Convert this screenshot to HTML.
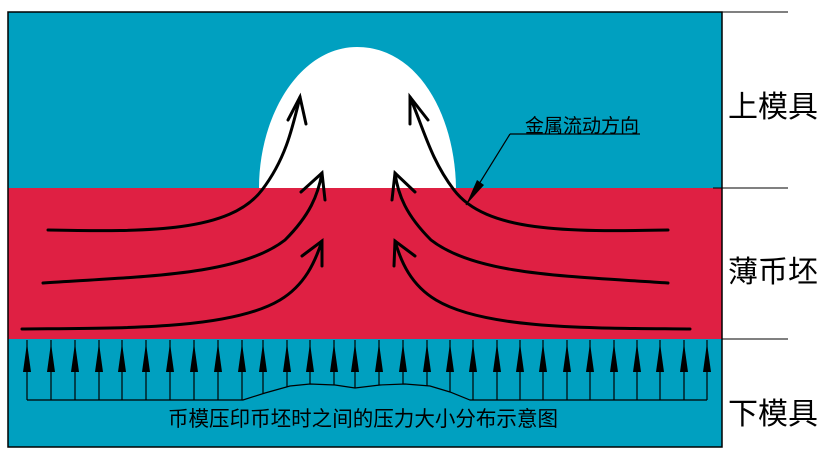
<!DOCTYPE html>
<html><head><meta charset="utf-8"><style>
body{margin:0;background:#fff}
svg{display:block}
text{font-family:"Liberation Sans","Noto Sans CJK SC",sans-serif;fill:#000}
</style></head><body>
<svg width="837" height="459" viewBox="0 0 837 459" xmlns="http://www.w3.org/2000/svg">
<rect x="8" y="12" width="714" height="435" fill="#00A0C0"/>
<rect x="8" y="188" width="714" height="151" fill="#DF2043"/>
<path d="M259,188 C259,115 300,47 357,47 C418,47 455,115 456,188 Z" fill="#fff"/>
<rect x="8" y="12" width="714" height="435" fill="none" stroke="#000" stroke-width="1.5"/>
<line x1="722" y1="12" x2="788" y2="12" stroke="#000"/>
<line x1="713" y1="188" x2="788" y2="188" stroke="#000"/>
<line x1="722" y1="339" x2="788" y2="339" stroke="#000"/>
<g fill="none" stroke="#000" stroke-width="3" stroke-linecap="round">
<path d="M48,230 C150,232 230,232 262,190 C285,160 292,130 300,97"/>
<path d="M288,120 L300,97 L306,124"/>
<path d="M43,283 C150,276 240,275 285,240 C310,215 318,195 322,173"/>
<path d="M301,192 L322,173 L325,200"/>
<path d="M22,329 C120,328 230,330 280,300 C305,285 315,262 322,241"/>
<path d="M302,256 L322,241 L322,266"/>
<path d="M668,230 C566,232 486,232 454,190 C431,160 424,130 410,97"/>
<path d="M428,120 L410,97 L410,124"/>
<path d="M668,283 C566,276 476,275 431,240 C406,215 398,195 395,173"/>
<path d="M415,192 L395,173 L392,200"/>
<path d="M690,329 C596,328 486,330 436,300 C411,285 401,262 395,241"/>
<path d="M415,256 L395,241 L394,266"/>
</g>
<path d="M27,400 L243,400 L265,393 L290,386 L310,384 L335,385 L355,388 L380,385 L405,384 L430,386 L450,392 L470,400 L707,400" fill="none" stroke="#000" stroke-width="1.2"/>
<text x="168" y="426" font-size="21" textLength="390" lengthAdjust="spacingAndGlyphs">币模压印币坯时之间的压力大小分布示意图</text>
<text x="525" y="132" font-size="19">金属流动方向</text>
<line x1="510" y1="134" x2="640" y2="134" stroke="#000" stroke-width="1.2"/>
<line x1="510" y1="134" x2="466" y2="205" stroke="#000" stroke-width="1.2"/>
<path d="M466,205 L477,180 L484,185 Z" fill="#000"/>
<text x="728" y="117" font-size="30">上模具</text>
<text x="728" y="282" font-size="30">薄币坯</text>
<text x="728" y="424" font-size="30">下模具</text>
<g stroke="#000" stroke-width="1.2">
<line x1="27" y1="340" x2="27" y2="400"/><line x1="51" y1="340" x2="51" y2="400"/><line x1="75" y1="340" x2="75" y2="400"/><line x1="99" y1="340" x2="99" y2="400"/><line x1="122" y1="340" x2="122" y2="400"/><line x1="146" y1="340" x2="146" y2="400"/><line x1="170" y1="340" x2="170" y2="400"/><line x1="194" y1="340" x2="194" y2="400"/><line x1="218" y1="340" x2="218" y2="400"/><line x1="242" y1="340" x2="242" y2="400"/>
<line x1="263" y1="340" x2="263" y2="394"/><line x1="287" y1="340" x2="287" y2="387"/><line x1="310" y1="340" x2="310" y2="384"/><line x1="334" y1="340" x2="334" y2="385"/><line x1="355" y1="340" x2="355" y2="388"/><line x1="379" y1="340" x2="379" y2="385"/><line x1="403" y1="340" x2="403" y2="384"/><line x1="427" y1="340" x2="427" y2="386"/><line x1="450" y1="340" x2="450" y2="392"/><line x1="473" y1="340" x2="473" y2="400"/>
<line x1="497" y1="340" x2="497" y2="400"/><line x1="520" y1="340" x2="520" y2="400"/><line x1="543" y1="340" x2="543" y2="400"/><line x1="567" y1="340" x2="567" y2="400"/><line x1="590" y1="340" x2="590" y2="400"/><line x1="614" y1="340" x2="614" y2="400"/><line x1="637" y1="340" x2="637" y2="400"/><line x1="660" y1="340" x2="660" y2="400"/><line x1="684" y1="340" x2="684" y2="400"/><line x1="707" y1="340" x2="707" y2="400"/>
</g>
<g fill="#000">
<path d="M27,343 l-4,29 h8z"/><path d="M51,343 l-4,29 h8z"/><path d="M75,343 l-4,29 h8z"/><path d="M99,343 l-4,29 h8z"/><path d="M122,343 l-4,29 h8z"/><path d="M146,343 l-4,29 h8z"/><path d="M170,343 l-4,29 h8z"/><path d="M194,343 l-4,29 h8z"/><path d="M218,343 l-4,29 h8z"/><path d="M242,343 l-4,29 h8z"/>
<path d="M263,343 l-4,29 h8z"/><path d="M287,343 l-4,29 h8z"/><path d="M310,343 l-4,29 h8z"/><path d="M334,343 l-4,29 h8z"/><path d="M355,343 l-4,29 h8z"/><path d="M379,343 l-4,29 h8z"/><path d="M403,343 l-4,29 h8z"/><path d="M427,343 l-4,29 h8z"/><path d="M450,343 l-4,29 h8z"/><path d="M473,343 l-4,29 h8z"/>
<path d="M497,343 l-4,29 h8z"/><path d="M520,343 l-4,29 h8z"/><path d="M543,343 l-4,29 h8z"/><path d="M567,343 l-4,29 h8z"/><path d="M590,343 l-4,29 h8z"/><path d="M614,343 l-4,29 h8z"/><path d="M637,343 l-4,29 h8z"/><path d="M660,343 l-4,29 h8z"/><path d="M684,343 l-4,29 h8z"/><path d="M707,343 l-4,29 h8z"/>
</g>
</svg>
</body></html>
